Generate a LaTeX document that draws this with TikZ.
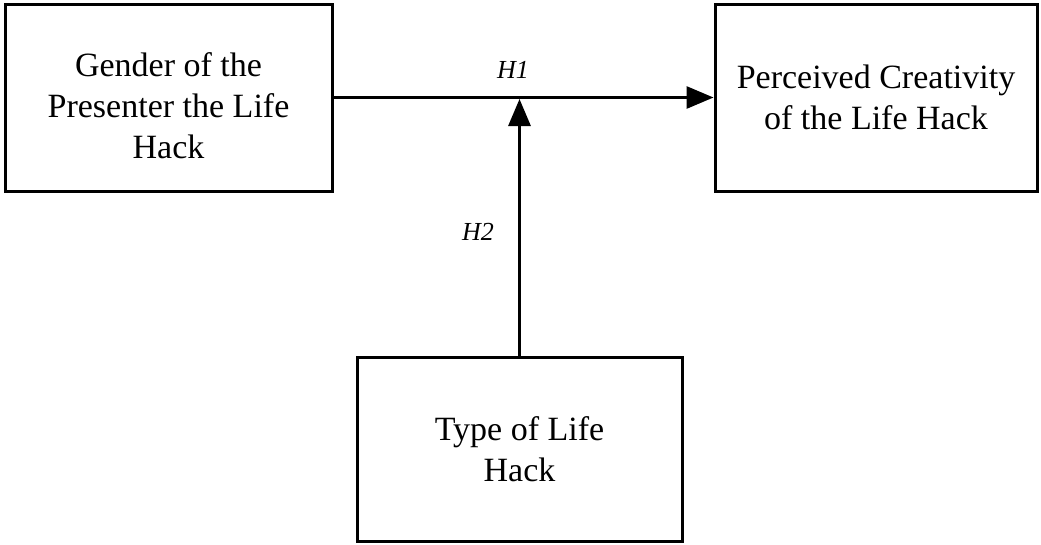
\documentclass[tikz,border=0pt]{standalone}
\usepackage{fontspec}
\setmainfont{Liberation Serif}
\usetikzlibrary{arrows.meta}
\begin{document}
\begin{tikzpicture}[x=1pt,y=-1pt,
    varbox/.style={draw,line width=3pt,align=center,inner sep=0pt,
      font=\fontsize{34}{41}\selectfont},
    hyp/.style={font=\fontsize{26}{30}\selectfont\itshape},
    link/.style={line width=3pt,-{Triangle[length=27pt,width=22pt]}}]
  \useasboundingbox (0,0) rectangle (1041,544);

  \node[varbox,minimum width=327pt,minimum height=187pt] (gender) at (168.5,97.5)
    {\strut\\[-30pt]Gender of the\\Presenter the Life\\Hack};
  \node[varbox,minimum width=322pt,minimum height=187pt] (creat) at (876,97.5)
    {Perceived Creativity\\of the Life Hack};
  \node[varbox,minimum width=325pt,minimum height=184pt] (type) at (519.5,449)
    {Type of Life\\Hack};

  % main effect and moderation
  \draw[link] (gender.east) -- (creat.west);
  \coordinate (meet) at (type.north |- gender.east);
  \draw[link] (type.north) -- ([yshift=-1.5pt]meet);

  \node[hyp] (h1) at (513,70) {H1};
  \node[hyp] (h2) at (478,232) {H2};
\end{tikzpicture}
\end{document}
